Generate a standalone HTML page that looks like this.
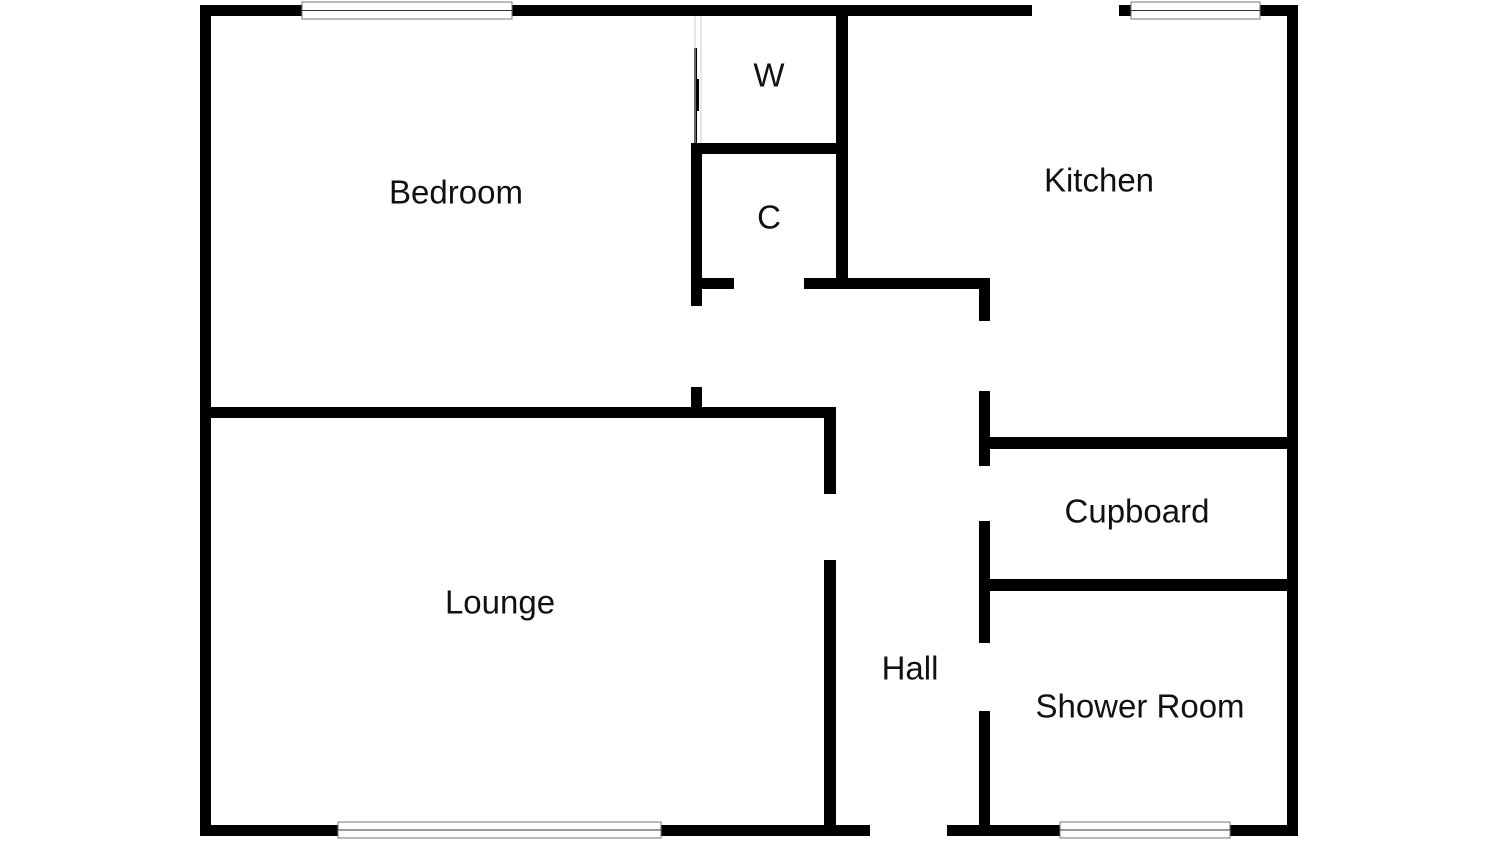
<!DOCTYPE html>
<html><head><style>
body{margin:0;background:#fff;}
svg{display:block}
text{font-family:"Liberation Sans",Arial,sans-serif;font-size:33px;fill:#111;text-anchor:middle;dominant-baseline:middle}
</style></head><body>
<svg width="1500" height="843" viewBox="0 0 1500 843">
<g fill="#000">
<rect x="200" y="5" width="832" height="11"/>
<rect x="1119" y="5" width="179" height="11"/>
<rect x="200" y="5" width="11" height="831"/>
<rect x="1287" y="5" width="11" height="831"/>
<rect x="200" y="825" width="670" height="11"/>
<rect x="947" y="825" width="351" height="11"/>
<rect x="836" y="5" width="12" height="284"/>
<rect x="691" y="143" width="157" height="11"/>
<rect x="691" y="143" width="11" height="163"/>
<rect x="694" y="48" width="3" height="95"/>
<rect x="694" y="79" width="5" height="32"/>
<rect x="691" y="278" width="43" height="11"/>
<rect x="804" y="278" width="186" height="11"/>
<rect x="979" y="278" width="11" height="43"/>
<rect x="200" y="407" width="636" height="11"/>
<rect x="691" y="387" width="11" height="25"/>
<rect x="824" y="407" width="12" height="87"/>
<rect x="824" y="560" width="12" height="270"/>
<rect x="979" y="391" width="11" height="75"/>
<rect x="979" y="521" width="11" height="122"/>
<rect x="979" y="711" width="11" height="119"/>
<rect x="990" y="437" width="297" height="12"/>
<rect x="990" y="579" width="297" height="12"/>
</g>
<line x1="695" y1="16" x2="695" y2="143" stroke="#ccc" stroke-width="1"/>
<line x1="701" y1="16" x2="701" y2="143" stroke="#ccc" stroke-width="1"/>
<g fill="#fff" stroke="#777" stroke-width="1">
<rect x="302" y="2" width="210" height="17"/>
<rect x="1131" y="2" width="129" height="17"/>
<rect x="338" y="822" width="323" height="16"/>
<rect x="1060" y="822" width="170" height="16"/>
</g>
<g stroke="#333" stroke-width="1">
<line x1="302" y1="10.5" x2="512" y2="10.5"/>
<line x1="1131" y1="10.5" x2="1260" y2="10.5"/>
<line x1="338" y1="830" x2="661" y2="830"/>
<line x1="1060" y1="830" x2="1230" y2="830"/>
</g>
<text x="456" y="195">Bedroom</text>
<text x="769" y="78">W</text>
<text x="769" y="220">C</text>
<text x="1099" y="183">Kitchen</text>
<text x="1137" y="514">Cupboard</text>
<text x="500" y="605">Lounge</text>
<text x="910" y="671">Hall</text>
<text x="1140" y="709">Shower Room</text>
</svg>
</body></html>
